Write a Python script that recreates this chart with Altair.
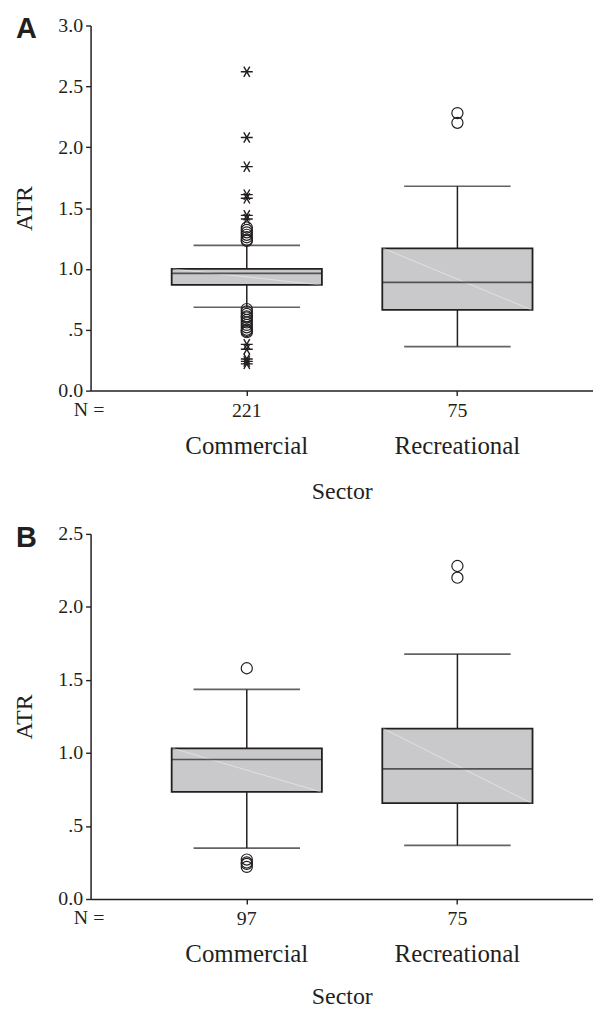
import altair as alt
import pandas as pd

# ---------------- data ----------------
categories = ["Commercial", "Recreational"]

# Panel A
a_n = [221, 75]
a_low = [0.685, 0.362]
a_q1 = [0.868, 0.663]
a_med = [0.964, 0.890]
a_q3 = [1.000, 1.169]
a_high = [1.194, 1.679]
a_circle_cat = (["Commercial"] * 19) + ["Recreational", "Recreational"]
a_circle_val = [1.34, 1.32, 1.30, 1.28, 1.26, 1.24, 1.23,
                0.67, 0.65, 0.63, 0.61, 0.60, 0.58, 0.56, 0.54, 0.52, 0.50, 0.49, 0.48,
                2.28, 2.20]
a_star_cat = ["Commercial"] * 12
a_star_val = [2.62, 2.08, 1.84, 1.61, 1.58, 1.44, 1.41, 0.38, 0.34, 0.26, 0.24, 0.22]
a_ticks = [0.0, 0.5, 1.0, 1.5, 2.0, 2.5, 3.0]

# Panel B
b_n = [97, 75]
b_low = [0.349, 0.367]
b_q1 = [0.733, 0.656]
b_med = [0.955, 0.891]
b_q3 = [1.032, 1.167]
b_high = [1.435, 1.677]
b_circle_cat = ["Commercial"] * 5 + ["Recreational", "Recreational"]
b_circle_val = [1.58, 0.27, 0.25, 0.24, 0.22, 2.28, 2.20]
b_star_cat = []
b_star_val = []
b_ticks = [0.0, 0.5, 1.0, 1.5, 2.0, 2.5]

INK = "#231f20"
FILL = "#c9c9cb"
SERIF = "Liberation Serif"
STAR = "M-1,0L1,0M-0.5,-0.866L0.5,0.866M-0.5,0.866L0.5,-0.866"

PW = 505
BOX_W = 151
CAP_W = 107


def n_expr(ns):
    expr = "''"
    for c, n in zip(reversed(categories), reversed(ns)):
        expr = f"datum.value == '{c}' ? '{n}' : ({expr})"
    return expr


def panel(letter, ns, low, q1, med, q3, high, ccat, cval, scat, sval, ticks, height,
          sector_pad):
    xscale = alt.Scale(domain=categories, paddingInner=0, paddingOuter=0.1927, align=0.627)
    yscale = alt.Scale(domain=[ticks[0], ticks[-1]], nice=False, zero=False)
    yaxis = alt.Axis(values=ticks,
                     labelExpr="datum.value == 0.5 ? '.5' : format(datum.value, '.1f')",
                     tickSize=5, labelPadding=3, labelFontSize=20,
                     title="ATR", titleFontSize=24, titlePadding=21,
                     titleFontWeight="normal")
    n_axis = alt.Axis(orient="bottom", labelExpr=n_expr(ns), labelAngle=0,
                      tickSize=5, labelPadding=5, labelFontSize=20,
                      title="N =", titleAngle=0, titleX=-2, titleY=25,
                      titleAlign="center", titleBaseline="alphabetic",
                      titleFontSize=20, titleFontWeight="normal")
    name_axis = alt.Axis(orient="bottom", offset=43, domain=False, ticks=False,
                         tickSize=0, labelPadding=0, labelFontSize=25, labelAngle=0,
                         title="Sector", titleFontSize=24, titlePadding=sector_pad,
                         titleFontWeight="normal")

    box_df = pd.DataFrame({"cat": categories, "n": ns, "low": low, "q1": q1,
                           "med": med, "q3": q3, "high": high})
    circ_df = pd.DataFrame({"cat": ccat, "val": cval})
    star_df = pd.DataFrame({"cat": scat, "val": sval})

    X = lambda: alt.X("cat:N", scale=xscale, axis=None, sort=categories)

    base = alt.Chart(box_df)
    whisker = base.mark_rule(color=INK, strokeWidth=1.5).encode(
        x=alt.X("cat:N", scale=xscale, axis=name_axis, sort=categories),
        y=alt.Y("low:Q", scale=yscale, axis=yaxis),
        y2="high:Q",
    )
    cap_lo = base.mark_tick(color=INK, size=CAP_W, thickness=1.7).encode(
        x=X(), y=alt.Y("low:Q", scale=yscale, axis=None),
    )
    cap_hi = base.mark_tick(color=INK, size=CAP_W, thickness=1.7).encode(
        x=X(), y=alt.Y("high:Q", scale=yscale, axis=None),
    )
    box = base.mark_bar(size=BOX_W, fill=FILL, stroke=INK, strokeWidth=1.8).encode(
        x=alt.X("cat:N", scale=xscale, axis=n_axis, sort=categories),
        y=alt.Y("q1:Q", scale=yscale, axis=None),
        y2="q3:Q",
    )
    diag = base.mark_rule(color="white", strokeWidth=0.8, opacity=0.55,
                          xOffset=-BOX_W / 2 + 1, x2Offset=BOX_W / 2 - 1).encode(
        x=X(), x2="cat:N",
        y=alt.Y("q3:Q", scale=yscale, axis=None), y2="q1:Q",
    )
    median = base.mark_tick(color=INK, size=BOX_W, thickness=1.7).encode(
        x=X(), y=alt.Y("med:Q", scale=yscale, axis=None),
    )
    circles = alt.Chart(circ_df).mark_point(shape="circle", filled=False, size=125,
                                            color=INK, strokeWidth=1.2, opacity=1).encode(
        x=X(), y=alt.Y("val:Q", scale=yscale, axis=None),
    )
    layers = [whisker, cap_lo, cap_hi, box, diag, median, circles]
    if len(sval):
        stars = alt.Chart(star_df).mark_point(shape=STAR, filled=False, size=144,
                                              color=INK, strokeWidth=1.4, opacity=1).encode(
            x=X(), y=alt.Y("val:Q", scale=yscale, axis=None),
        )
        layers.append(stars)
    lab = alt.Chart(pd.DataFrame({"t": [letter]})).mark_text(
        font="Liberation Sans", fontWeight="bold", fontSize=29, align="left",
        baseline="alphabetic", color=INK).encode(
        text="t:N", x=alt.value(-75), y=alt.value(13))
    layers.append(lab)

    return alt.layer(*layers).resolve_scale(x="shared", y="shared").resolve_axis(
        x="independent", y="independent").properties(width=PW, height=height)


pa = panel("A", a_n, a_low, a_q1, a_med, a_q3, a_high,
           a_circle_cat, a_circle_val, a_star_cat, a_star_val, a_ticks, 367, 21)
pb = panel("B", b_n, b_low, b_q1, b_med, b_q3, b_high,
           b_circle_cat, b_circle_val, b_star_cat, b_star_val, b_ticks, 367, 18)

chart = alt.vconcat(pa, pb, spacing=21).properties(
    padding={"left": 5, "top": 5, "right": 0, "bottom": 0},
    background="white",
).configure_view(stroke=None).configure_axis(
    labelFont=SERIF, titleFont=SERIF, labelColor=INK, titleColor=INK,
    domainColor=INK, tickColor=INK, domainWidth=1.5, tickWidth=1.4, grid=False,
)

chart.save("out.html", embed_options={"renderer": "svg", "actions": False})
